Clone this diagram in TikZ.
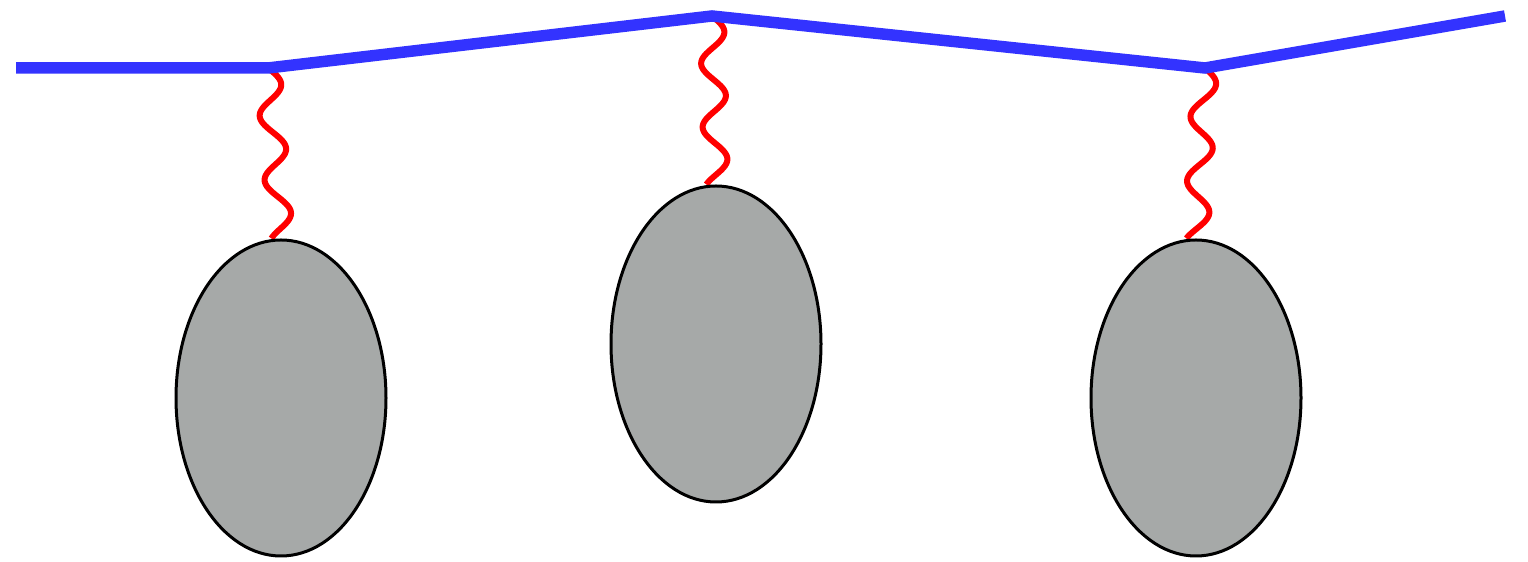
\documentclass[tikz,border=0pt]{standalone}
\usetikzlibrary{shapes.geometric, calc, backgrounds}
\definecolor{RopeBlue}{RGB}{51,51,255}
\definecolor{BobGray}{RGB}{166,169,168}

\begin{document}
\begin{tikzpicture}[
	rope/.style={line width=0.23cm, RopeBlue},
	spring/.style={line width=0.12cm, red, line join=round},
	bob/.style={ellipse, draw=black, line width=0.06cm, fill=BobGray,
		minimum width=4.2cm, minimum height=6.32cm, inner sep=0pt}]
	\useasboundingbox (0,0) rectangle (30.56,11.24);

	% rope points
	\coordinate (r0) at (0.32,9.88);
	\coordinate (r1) at (5.36,9.88);
	\coordinate (r2) at (14.24,10.92);
	\coordinate (r3) at (24.1,9.88);
	\coordinate (r4) at (30.1,10.92);

	% hanging masses
	\node[bob] (b1) at (5.62,3.28) {};
	\node[bob] (b2) at (14.32,4.36) {};
	\node[bob] (b3) at (23.92,3.28) {};

	% springs, behind the masses
	\begin{scope}[on background layer]
	\foreach \top/\mass in {r1/b1, r2/b2, r3/b3}
		\draw[spring] let \p1=(\top), \p2=(\mass.north) in
			plot[variable=\t, domain=0:1, samples=90, smooth]
			({\x1+(\x2-\x1)*\t+0.24cm*sin(2.65*360*\t)}, {\y1+(\y2-\y1)*\t});
	\end{scope}

	\draw[rope] (r0) -- (r1) -- (r2) -- (r3) -- (r4);
\end{tikzpicture}
\end{document}
